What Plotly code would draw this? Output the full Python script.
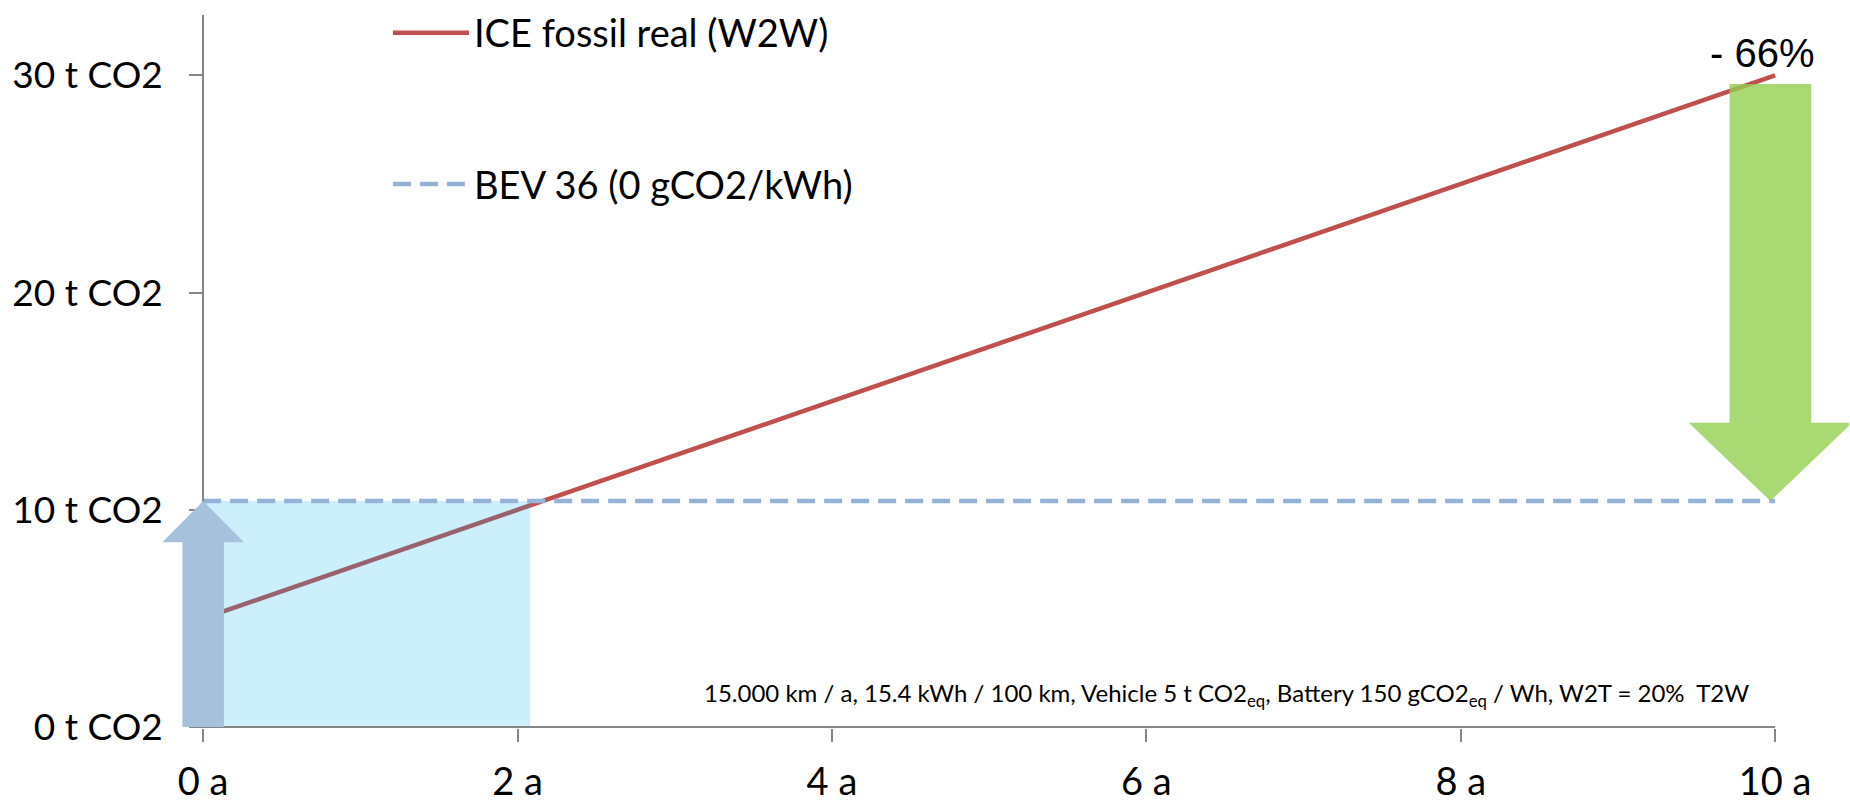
import plotly.graph_objects as go

# ---------------- data ----------------
years = [0, 1, 2, 3, 4, 5, 6, 7, 8, 9, 10]
ice_w2w = [5.0, 7.5, 10.0, 12.5, 15.0, 17.5, 20.0, 22.5, 25.0, 27.5, 30.0]
bev36 = [10.4, 10.4, 10.4, 10.4, 10.4, 10.4, 10.4, 10.4, 10.4, 10.4, 10.4]
shade_end_year = 2.08
x_tick_vals = [0, 2, 4, 6, 8, 10]
x_tick_text = ["0 a", "2 a", "4 a", "6 a", "8 a", "10 a"]
y_tick_vals = [0, 10, 20, 30]
y_tick_text = ["0 t CO2", "10 t CO2", "20 t CO2", "30 t CO2"]
ice_name = "ICE fossil real (W2W)"
bev_name = "BEV 36 (0 gCO2/kWh)"
reduction_text = "- 66%"
note_text = ("15.000 km / a, 15.4 kWh / 100 km, Vehicle 5 t CO2<sub>eq</sub>, "
             "Battery 150 gCO2<sub>eq</sub> / Wh, W2T = 20%  T2W")

# ---------------- style ----------------
W, H = 1850, 804
X_RANGE = [-0.30, 10.47]
Y_RANGE = [-0.05, 32.78]
FONT = "Lato"
AX_GRAY = "#868686"
RED = "#C0504D"
DASH_BLUE = "#95B3D7"

fig = go.Figure()

fig.add_trace(go.Scatter(
    x=years, y=ice_w2w, mode="lines", name=ice_name, legendgroup="ice",
    line=dict(color=RED, width=4.5), hoverinfo="skip"))

# light-blue shaded region (over the red line)
fig.add_trace(go.Scatter(
    x=[years[0], shade_end_year, shade_end_year, years[0]],
    y=[0, 0, bev36[0], bev36[0]],
    mode="lines", fill="toself", fillcolor="rgba(0,176,240,0.2)",
    line=dict(width=0), showlegend=False, hoverinfo="skip"))

fig.add_trace(go.Scatter(
    x=years, y=bev36, mode="lines", name=bev_name, legendgroup="bev",
    line=dict(color=DASH_BLUE, width=4.5, dash="18px,9px"), hoverinfo="skip"))

# ---------- block arrows ----------
def block_arrow(xc, y_from, y_to, body_half, head_half, head_len):
    d = 1 if y_to > y_from else -1
    yb = y_to - d * head_len
    pts = [(xc - body_half, y_from), (xc - body_half, yb), (xc - head_half, yb),
           (xc, y_to), (xc + head_half, yb), (xc + body_half, yb), (xc + body_half, y_from)]
    return "M " + " L ".join(f"{px},{py}" for px, py in pts) + " Z"

shapes = [
    dict(type="line", xref="x", yref="y", x0=years[0], x1=years[-1], y0=0, y1=0,
         line=dict(color=AX_GRAY, width=2), layer="above"),
    dict(type="path", xref="x", yref="y",
         path=block_arrow(years[0], 0, bev36[0], 0.132, 0.26, 1.9),
         fillcolor="#A6C1DB", line=dict(width=0), layer="above"),
    dict(type="path", xref="x", yref="y",
         path=block_arrow(years[-1] - 0.03, ice_w2w[-1] - 0.4, bev36[-1], 0.26, 0.52, 3.6),
         fillcolor="rgba(146,208,80,0.8)", line=dict(width=0), layer="above"),
]

annotations = [
    dict(x=years[-1] - 0.08, y=31.05, xref="x", yref="y", text=reduction_text,
         showarrow=False, font=dict(family="Liberation Sans", size=40, color="black"),
         xanchor="center", yanchor="middle"),
    dict(x=9.845, y=1.5, xref="x", yref="y", text=note_text, showarrow=False,
         font=dict(family=FONT, size=24, color="black"), xanchor="right", yanchor="middle"),
]

ml, mr, mt, mb = 156, 1, 12, 72
fig.update_layout(
    width=W, height=H, autosize=False,
    margin=dict(l=ml, r=mr, t=mt, b=mb, pad=0),
    paper_bgcolor="white", plot_bgcolor="white",
    font=dict(family=FONT, size=38, color="black"),
    showlegend=True,
    legend=dict(x=0.137, y=1.019, xanchor="left", yanchor="top",
                font=dict(family=FONT, size=38, color="black"),
                bgcolor="rgba(0,0,0,0)", tracegroupgap=99, itemwidth=76),
    xaxis=dict(range=X_RANGE, showline=False, showgrid=False, zeroline=False,
               tickmode="array", tickvals=x_tick_vals, ticktext=x_tick_text,
               ticks="outside", ticklen=13, tickwidth=2, tickcolor=AX_GRAY,
               ticklabelstandoff=7,
               tickfont=dict(family=FONT, size=38, color="black")),
    yaxis=dict(range=Y_RANGE, anchor="free",
               position=(0 - X_RANGE[0]) / (X_RANGE[1] - X_RANGE[0]),
               showline=True, linecolor=AX_GRAY, linewidth=2,
               showgrid=False, zeroline=False,
               tickmode="array", tickvals=y_tick_vals, ticktext=y_tick_text,
               ticks="outside", ticklen=13, tickwidth=2, tickcolor=AX_GRAY,
               ticklabelstandoff=19,
               tickfont=dict(family=FONT, size=37, color="black")),
    shapes=shapes, annotations=annotations,
)

fig.write_html("out.html")
